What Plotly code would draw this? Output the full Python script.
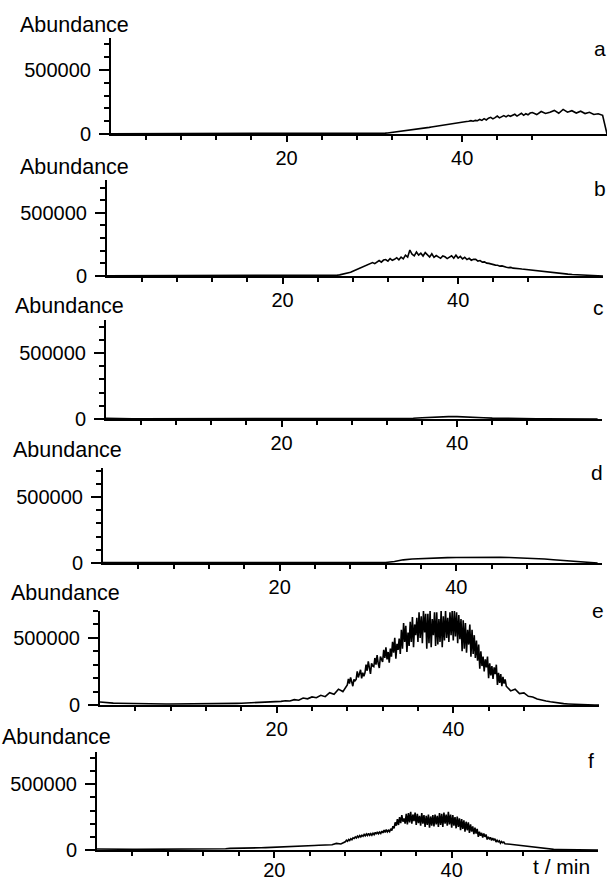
import numpy as np
import plotly.graph_objects as go

W, H = 610, 881


def grid(segments):
    """time sampling (min) built from (start, stop, step) segments"""
    out = []
    for s, e, st in segments:
        out += list(np.arange(s, e, st))
    return out


# ---------------- data (abundance in thousands) ----------------
t_ab = grid([(0, 26, 0.5), (26, 48, 0.25), (48, 56.75, 0.5)])
t_cd = grid([(0, 57, 1.0)])
t_ef = grid([(0, 28, 0.5), (28, 46, 0.125), (46, 56.75, 0.5)])

a_early = [2, 2, 2, 2, 2, 2, 2, 2, 2, 2,
           2, 2, 2, 2, 2, 2, 2, 2, 2, 2,
           2, 2, 2, 2, 2, 2, 2, 2, 2, 2,
           2, 2, 2, 2, 2, 2, 2, 2, 2, 2,
           2, 2, 2, 2, 2, 2, 2, 2, 2, 2,
           2, 2]
a_mid = [2, 2, 2, 2, 2, 2, 2, 2, 2, 2, 2, 2, 2, 2, 3, 3,
         3, 4, 4, 5, 6, 7, 8, 10, 12, 14, 16, 18, 20, 22, 25, 28,
         30, 33, 36, 38, 41, 43, 46, 48, 50, 52, 55, 58, 61, 63, 66, 69,
         72, 74, 77, 79, 82, 84, 87, 89, 92, 94, 97, 99, 104, 100, 106, 104,
         114, 106, 120, 110, 124, 130, 118, 128, 140, 126, 132, 144, 134, 146, 138, 144,
         154, 140, 150, 162, 146, 158, 150, 164]
a_late = [168, 152, 176, 160, 170, 184, 162, 192, 170, 182, 164, 178, 160, 170, 152, 158, 146, 0]

b_early = [2, 2, 2, 2, 2, 2, 2, 2, 2, 2,
           2, 2, 2, 2, 2, 2, 2, 2, 2, 2,
           2, 2, 2, 2, 2, 2, 2, 2, 2, 2,
           2, 2, 2, 2, 2, 2, 2, 2, 2, 2,
           2, 2, 2, 2, 2, 2, 2, 2, 3, 3,
           4, 4]
b_mid = [5, 7, 9, 12, 15, 19, 24, 30, 38, 45, 52, 60, 70, 78, 86, 93,
         100, 106, 98, 112, 122, 110, 126, 130, 118, 138, 124, 132, 145, 128, 150, 136,
         165, 150, 205, 172, 160, 190, 165, 180, 158, 185, 170, 150, 176, 148, 162, 150,
         140, 158, 152, 138, 150, 160, 140, 165, 142, 155, 135, 148, 130, 140, 125, 132,
         132, 118, 122, 110, 112, 102, 100, 94, 92, 86, 85, 78, 80, 72, 70, 66,
         68, 62, 62, 58, 58, 55, 53, 50]
b_late = [48, 43, 39, 35, 31, 27, 24, 21, 18, 15, 12, 10, 8, 6, 4, 3, 1, 0]

c_vals = [6, 3, 2, 2, 2, 2, 2, 2, 2, 2,
          2, 2, 2, 2, 2, 2, 2, 2, 2, 2,
          2, 2, 2, 2, 2, 2, 2, 2, 2, 2,
          3, 3, 3, 3, 4, 6, 9, 13, 16, 18,
          18, 17, 14, 10, 7, 5, 3, 3, 2, 2,
          2, 2, 1, 1, 1, 0, 0]

d_vals = [4, 3, 3, 3, 3, 3, 3, 3, 3, 3,
          3, 3, 3, 3, 3, 3, 3, 3, 3, 3,
          3, 3, 3, 3, 3, 3, 3, 3, 3, 3,
          3, 3, 4, 12, 24, 30, 34, 37, 39, 41,
          42, 43, 44, 44, 44, 43, 42, 40, 37, 34,
          30, 25, 19, 13, 8, 3, 0]

e_early = [22, 18, 16, 14, 13, 12, 11, 10, 10, 9,
           9, 8, 8, 8, 8, 7, 7, 7, 7, 7,
           7, 7, 8, 8, 8, 9, 9, 10, 10, 11,
           11, 12, 13, 14, 15, 16, 17, 18, 20, 21,
           24, 27, 32, 30, 40, 36, 52, 46, 60, 54,
           72, 62, 92, 80, 118, 100]
e_mid = [150, 195, 160, 205, 172, 140, 190, 180,
         190, 250, 205, 230, 262, 198, 240, 215,
         240, 300, 255, 325, 270, 232, 310, 290,
         285, 350, 300, 372, 310, 276, 360, 335,
         320, 410, 350, 430, 340, 395, 315, 420,
         360, 470, 390, 500, 345, 455, 410, 495,
         380, 560, 420, 610, 470, 590, 395, 540,
         440, 620, 470, 655, 430, 600, 520, 650,
         470, 690, 500, 660, 460, 700, 540, 680,
         420, 680, 460, 700, 430, 640, 520, 690,
         440, 690, 450, 640, 470, 700, 430, 660,
         480, 700, 500, 650, 470, 690, 520, 700,
         480, 700, 510, 690, 460, 670, 490, 640,
         400, 630, 420, 610, 390, 560, 450, 600,
         360, 560, 380, 520, 350, 480, 330, 450,
         270, 400, 290, 360, 250, 340, 280, 360,
         200, 310, 220, 290, 195, 280, 230, 300,
         150, 240, 165, 230, 140, 210, 160, 190]
e_late = [140, 105, 118, 85, 90, 65, 60, 45, 40, 30, 24,
          18, 14, 10, 8, 6, 4, 3, 2, 1, 0, 0]

f_early = [8, 7, 6, 6, 5, 5, 5, 5, 5, 5,
           5, 5, 5, 5, 5, 5, 5, 5, 6, 6,
           6, 6, 7, 7, 7, 8, 8, 8, 9, 9,
           12, 12, 13, 14, 15, 15, 16, 17, 18, 19,
           20, 22, 24, 25, 27, 28, 30, 31, 33, 34,
           36, 38, 42, 40, 50, 46]
f_mid = [62, 74, 66, 80, 72, 86, 78, 92,
         88, 100, 92, 106, 96, 110, 100, 112,
         104, 118, 108, 122, 110, 126, 112, 124,
         112, 128, 116, 134, 120, 138, 124, 136,
         126, 144, 130, 152, 134, 156, 138, 150,
         140, 162, 148, 180, 165, 210, 185, 235,
         190, 250, 205, 265, 215, 240, 200, 275,
         195, 280, 210, 290, 200, 270, 220, 285,
         190, 275, 205, 260, 185, 280, 200, 265,
         175, 260, 190, 270, 170, 255, 185, 265,
         180, 270, 195, 260, 175, 280, 190, 275,
         175, 285, 200, 270, 185, 290, 195, 270,
         170, 265, 185, 250, 165, 255, 175, 240,
         150, 235, 160, 225, 140, 215, 150, 210,
         130, 195, 140, 180, 120, 170, 125, 160,
         100, 140, 108, 130, 95, 125, 100, 118,
         80, 100, 85, 96, 72, 90, 76, 86,
         60, 74, 62, 70, 52, 64, 55, 60]
f_late = [48, 44, 38, 34, 28, 24, 20, 16, 12, 9, 7,
          5, 4, 3, 2, 2, 1, 1, 1, 0, 0, 0]

panel_letters = ["a", "b", "c", "d", "e", "f"]
x_major = [20, 40]
x_major_text = ["20", "40"]
x_minor = [4, 8, 12, 16, 20, 24, 28, 32, 36, 40, 44, 48]
y_major = [0, 500000]
y_major_text = ["0", "500000"]
y_minor = [100000, 200000, 300000, 400000, 500000, 600000, 700000]

series = [
    (t_ab, a_early + a_mid + a_late),
    (t_ab, b_early + b_mid + b_late),
    (t_cd, c_vals),
    (t_cd, d_vals),
    (t_ef, e_early + e_mid + e_late),
    (t_ef, f_early + f_mid + f_late),
]
for tt, vv in series:
    assert len(tt) == len(vv), (len(tt), len(vv))

# ---------------- layout geometry (pixels) ----------------
geom = [
    dict(L=111, R=607, bot=134, top=38, ymax=750000, ab=(18, 25), let=(600, 48), xs=-1),
    dict(L=107, R=603, bot=276, top=180, ymax=760000, ab=(18, 167), let=(600, 188), xs=-1),
    dict(L=106, R=602, bot=419, top=320, ymax=750000, ab=(13, 306), let=(598, 307), xs=-1),
    dict(L=103, R=602, bot=563, top=468, ymax=720000, ab=(11, 450), let=(597, 472), xs=-1),
    dict(L=100, R=599, bot=705, top=611, ymax=700000, ab=(9, 593), let=(598, 610), xs=-1),
    dict(L=97, R=598, bot=850, top=752, ymax=745000, ab=(0, 737), let=(591, 760), xs=-5),
]

FONT = "Liberation Sans, Arial, sans-serif"
fig = go.Figure()
layout = dict(width=W, height=H, margin=dict(l=0, r=0, t=0, b=0, autoexpand=False),
              paper_bgcolor="white", plot_bgcolor="white", showlegend=False,
              font=dict(family=FONT, color="black"))
annotations = []

for i, ((tt, vals), g, letter) in enumerate(zip(series, geom, panel_letters)):
    k = "" if i == 0 else str(i + 1)
    fig.add_trace(go.Scatter(x=tt, y=[v * 1000 for v in vals], mode="lines",
                             line=dict(color="black", width=1.6),
                             xaxis="x" + k, yaxis="y" + k, hoverinfo="skip"))
    layout["xaxis" + k] = dict(
        domain=[g["L"] / W, g["R"] / W], range=[0, 56.5], anchor="y" + k,
        automargin=False,
        showline=True, linecolor="black", linewidth=2, showgrid=False, zeroline=False,
        tickmode="array", tickvals=x_major, ticktext=x_major_text,
        ticks="outside", ticklen=6, tickwidth=1.5, tickcolor="black",
        ticklabelstandoff=g["xs"],
        tickfont=dict(size=20, family=FONT, color="black"),
        minor=dict(tickmode="array", tickvals=x_minor, ticks="outside", ticklen=4,
                   tickwidth=1.5, tickcolor="black", showgrid=False),
    )
    layout["yaxis" + k] = dict(
        domain=[1 - g["bot"] / H, 1 - g["top"] / H], range=[0, g["ymax"]], anchor="x" + k,
        automargin=False,
        showline=True, linecolor="black", linewidth=2, showgrid=False, zeroline=False,
        tickmode="array", tickvals=y_major, ticktext=y_major_text,
        ticks="outside", ticklen=10, tickwidth=1.5, tickcolor="black",
        ticklabelstandoff=4,
        tickfont=dict(size=20, family=FONT, color="black"),
        minor=dict(tickmode="array", tickvals=y_minor, ticks="outside", ticklen=5,
                   tickwidth=1.5, tickcolor="black", showgrid=False),
    )
    annotations.append(dict(text="Abundance", xref="paper", yref="paper",
                            x=g["ab"][0] / W, y=1 - g["ab"][1] / H,
                            xanchor="left", yanchor="middle", showarrow=False,
                            font=dict(size=21.5, family=FONT, color="black")))
    annotations.append(dict(text=letter, xref="paper", yref="paper",
                            x=g["let"][0] / W, y=1 - g["let"][1] / H,
                            xanchor="center", yanchor="middle", showarrow=False,
                            font=dict(size=21, family=FONT, color="black")))

annotations.append(dict(text="t / min", xref="paper", yref="paper",
                        x=561 / W, y=1 - 866 / H, xanchor="center", yanchor="middle",
                        showarrow=False, font=dict(size=21, family=FONT, color="black")))
layout["annotations"] = annotations
fig.update_layout(**layout)
fig.write_html("out.html")
